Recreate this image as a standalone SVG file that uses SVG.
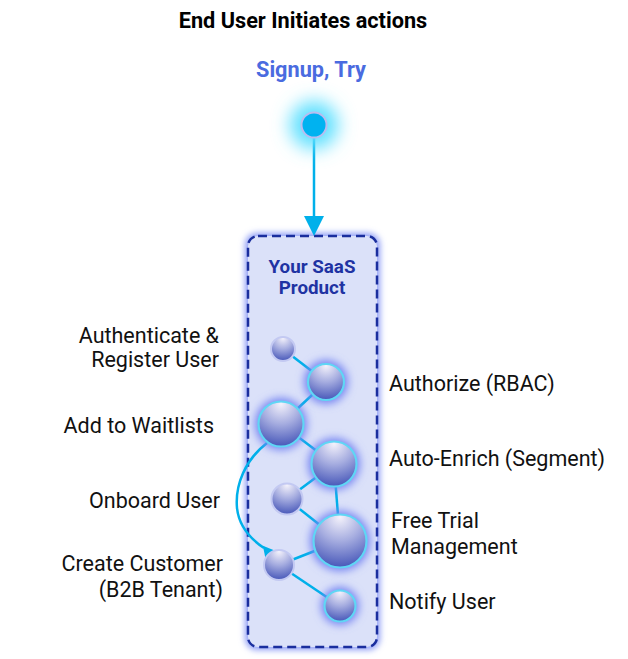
<svg xmlns="http://www.w3.org/2000/svg" width="628" height="659" viewBox="0 0 628 659">
<defs>
<style>
.lbl{font-family:Roboto,"Liberation Sans",sans-serif;font-size:21.5px;fill:#111;}
.title{font-family:Roboto,"Liberation Sans",sans-serif;font-size:21.7px;font-weight:bold;fill:#000;}
.sig{font-family:Roboto,"Liberation Sans",sans-serif;font-size:21.7px;font-weight:bold;fill:#4a6be0;}
.prod{font-family:Roboto,"Liberation Sans",sans-serif;font-size:18.8px;font-weight:bold;fill:#1f33a3;}
.edge{stroke:#00b0ea;stroke-width:2.5;fill:none;}
.sm{fill:url(#sph);stroke:#c3c9f2;stroke-width:2;}
.lg{fill:url(#sph);stroke:#5fd6f5;stroke-width:2.2;}
.glow{fill:#7584f2;filter:url(#blur);}
</style>
<radialGradient id="sph" cx="0.5" cy="0.1" r="0.95" fx="0.5" fy="0.05">
<stop offset="0" stop-color="#f4f2fb"/>
<stop offset="0.45" stop-color="#a6ade0"/>
<stop offset="1" stop-color="#3e4fb5"/>
</radialGradient>
<filter id="blur" x="-1" y="-1" width="3" height="3"><feGaussianBlur stdDeviation="4.5"/></filter>
<filter id="blurBig" x="-2" y="-2" width="5" height="5"><feGaussianBlur stdDeviation="9"/></filter>
<filter id="boxglow" x="-0.2" y="-0.1" width="1.4" height="1.2"><feGaussianBlur stdDeviation="3"/></filter>
</defs>
<rect width="628" height="659" fill="#fff"/>
<text class="title" x="303" y="28" text-anchor="middle">End User Initiates actions</text>
<text class="sig" x="311" y="77" text-anchor="middle">Signup, Try</text>

<g id="container">
<rect x="245" y="233" width="135" height="417" rx="12" fill="#8d9cf5" filter="url(#boxglow)"/>
<rect x="248" y="236" width="129" height="411" rx="10" fill="#dbe1f9" stroke="#1a2e9e" stroke-width="2.5" stroke-dasharray="9,5"/>
<text class="prod" x="312" y="273" text-anchor="middle">Your SaaS</text>
<text class="prod" x="312" y="294" text-anchor="middle">Product</text>
</g>

<g id="connectors">
<line class="edge" x1="314" y1="138" x2="314" y2="216"/>
<path d="M304,216 L324,216 L314,236 z" fill="#00b0ea"/>
<line class="edge" x1="283" y1="349" x2="326" y2="382"/>
<line class="edge" x1="326" y1="382" x2="281" y2="424"/>
<line class="edge" x1="281" y1="424" x2="334" y2="464"/>
<line class="edge" x1="334" y1="464" x2="287" y2="499"/>
<line class="edge" x1="334" y1="464" x2="340" y2="541"/>
<line class="edge" x1="287" y1="499" x2="340" y2="541"/>
<line class="edge" x1="340" y1="541" x2="279" y2="565"/>
<line class="edge" x1="279" y1="565" x2="340" y2="606"/>
<path class="edge" d="M267,443 C245,460 235,485 237,508 C239,527 252,540 264,548"/>
<path d="M261,557 L275,557 L268,544 z" fill="#00b0ea" transform="rotate(-40 268 552)"/>
</g>

<g id="n-start">
<circle cx="314" cy="125" r="24" fill="#5ee0ff" filter="url(#blurBig)"/>
<circle cx="314" cy="125" r="12.5" fill="#00b2f0" stroke="#b9bdf0" stroke-width="2"/>
</g>
<g id="n-auth"><circle class="sm" cx="283" cy="349" r="12"/></g>
<g id="n-rbac"><circle class="glow" cx="326" cy="382" r="22"/><circle class="lg" cx="326" cy="382" r="18"/></g>
<g id="n-wait"><circle class="glow" cx="281" cy="424" r="26"/><circle class="lg" cx="281" cy="424" r="22.5"/></g>
<g id="n-enrich"><circle class="glow" cx="334" cy="464" r="26"/><circle class="lg" cx="334" cy="464" r="22.5"/></g>
<g id="n-onboard"><circle class="sm" cx="287" cy="499" r="15.5"/></g>
<g id="n-trial"><circle class="glow" cx="340" cy="541" r="30"/><circle class="lg" cx="340" cy="541" r="26.5"/></g>
<g id="n-customer"><circle class="sm" cx="279" cy="565" r="15"/></g>
<g id="n-notify"><circle class="glow" cx="340" cy="606" r="19"/><circle class="lg" cx="340" cy="606" r="15.5"/></g>

<g id="labels">
<text class="lbl" x="219" y="343" text-anchor="end">Authenticate &amp;</text>
<text class="lbl" x="219" y="367" text-anchor="end">Register User</text>
<text class="lbl" x="214" y="433" text-anchor="end">Add to Waitlists</text>
<text class="lbl" x="220" y="508" text-anchor="end">Onboard User</text>
<text class="lbl" x="223" y="571" text-anchor="end">Create Customer</text>
<text class="lbl" x="223" y="597" text-anchor="end">(B2B Tenant)</text>
<text class="lbl" x="389" y="391">Authorize (RBAC)</text>
<text class="lbl" x="389" y="466">Auto-Enrich (Segment)</text>
<text class="lbl" x="391" y="528">Free Trial</text>
<text class="lbl" x="391" y="554">Management</text>
<text class="lbl" x="389" y="609">Notify User</text>
</g>
</svg>
